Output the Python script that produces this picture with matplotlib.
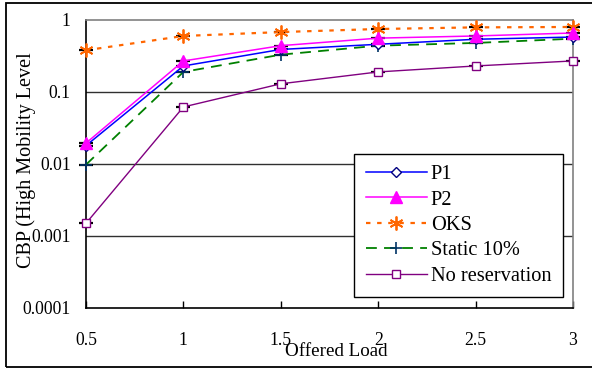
import numpy as np
import matplotlib
matplotlib.use('Agg')
import matplotlib.pyplot as plt
from matplotlib.patches import Rectangle
from matplotlib.ticker import FixedLocator, FixedFormatter, NullLocator

plt.rcParams['font.family'] = ['Liberation Serif', 'DejaVu Serif']

# offered load values on x axis
load = [0.5, 1, 1.5, 2, 2.5, 3]

# CBP for each scheme
p1 = [0.018, 0.23, 0.39, 0.46, 0.54, 0.58]
p2 = [0.0195, 0.27, 0.44, 0.56, 0.60, 0.66]
oks = [0.38, 0.60, 0.68, 0.75, 0.79, 0.80]
static10 = [0.0098, 0.19, 0.33, 0.44, 0.48, 0.55]
no_res = [0.0015, 0.062, 0.13, 0.19, 0.23, 0.27]

y_ticks = [0.0001, 0.001, 0.01, 0.1, 1]
y_tick_labels = ['0.0001', '0.001', '0.01', '0.1', '1']
x_tick_labels = ['0.5', '1', '1.5', '2', '2.5', '3']

fig = plt.figure(figsize=(5.92, 3.69), dpi=100)
ax = fig.add_axes([86/592, 1-308/369, 487/592, 288/369])

# black little dashes behind each point (as in the original)
for ys in [p1, p2, oks, static10, no_res]:
    ax.plot(load, ys, linestyle='none', marker='_', color='black',
            markersize=10, markeredgewidth=1.6, zorder=2, clip_on=False)

ax.plot(load, p1, color='#0000FF', lw=1.1, marker='D', markersize=5,
        markerfacecolor='white', markeredgecolor='#000080', markeredgewidth=1.0,
        label='P1', zorder=4, clip_on=False)
ax.plot(load, p2, color='#FF00FF', lw=1.1, marker='^', markersize=8,
        markerfacecolor='#FF00FF', markeredgecolor='#FF00FF',
        label='P2', zorder=4, clip_on=False)
ax.plot(load, oks, color='#FF6600', lw=1.6, linestyle=(0, (2, 3)),
        marker=(6, 2, 0), markersize=10, markeredgecolor='#FF6600',
        markeredgewidth=1.3, label='OKS', zorder=3, clip_on=False)
ax.plot(load, static10, color='#008000', lw=1.3, linestyle=(0, (6, 4)),
        marker='+', markersize=9, markeredgecolor='#003366',
        markeredgewidth=1.2, label='Static 10%', zorder=3, clip_on=False)
ax.plot(load, no_res, color='#800080', lw=1.0, marker='s', markersize=6,
        markerfacecolor='white', markeredgecolor='#800080',
        markeredgewidth=1.0, label='No reservation', zorder=3, clip_on=False)

ax.set_yscale('log')
ax.set_ylim(1e-4, 1)
ax.set_xlim(0.5, 3)

ax.yaxis.set_major_locator(FixedLocator(y_ticks))
ax.yaxis.set_major_formatter(FixedFormatter(y_tick_labels))
ax.yaxis.set_minor_locator(NullLocator())
ax.xaxis.set_major_locator(FixedLocator(load))
ax.xaxis.set_major_formatter(FixedFormatter(x_tick_labels))

ax.tick_params(axis='y', length=0, pad=11, labelsize=12.7)
ax.tick_params(axis='x', direction='in', length=5, width=1, pad=17, labelsize=12.7)

for yv in y_ticks[1:-1]:
    ax.axhline(yv, color='#303030', lw=1.0, zorder=1)

ax.spines['left'].set_color('black')
ax.spines['bottom'].set_color('black')
ax.spines['top'].set_color('#808080')
ax.spines['right'].set_color('#808080')
for s in ax.spines.values():
    s.set_linewidth(1.2)

fig.text(336/592, 1-351/369, 'Offered Load', fontsize=13.7,
         ha='center', va='center')
fig.text(26/592, 1-160/369, 'CBP (High Mobility Level', rotation=90,
         fontsize=14.5, ha='center', va='center')

leg = ax.legend(loc='lower right', bbox_to_anchor=(0.979, 0.038),
                fontsize=14.7, frameon=True, fancybox=False,
                edgecolor='black', framealpha=1, handlelength=3.0,
                handletextpad=0.2, labelspacing=0.3, borderpad=0.55,
                borderaxespad=0)
leg.get_frame().set_linewidth(1.0)

# outer chart border
fig.patches.append(Rectangle((6/592, 1-367/369), 1.0, 364/369,
                             transform=fig.transFigure, fill=False,
                             edgecolor='black', lw=1.3))

fig.savefig('out.png', dpi=100)
